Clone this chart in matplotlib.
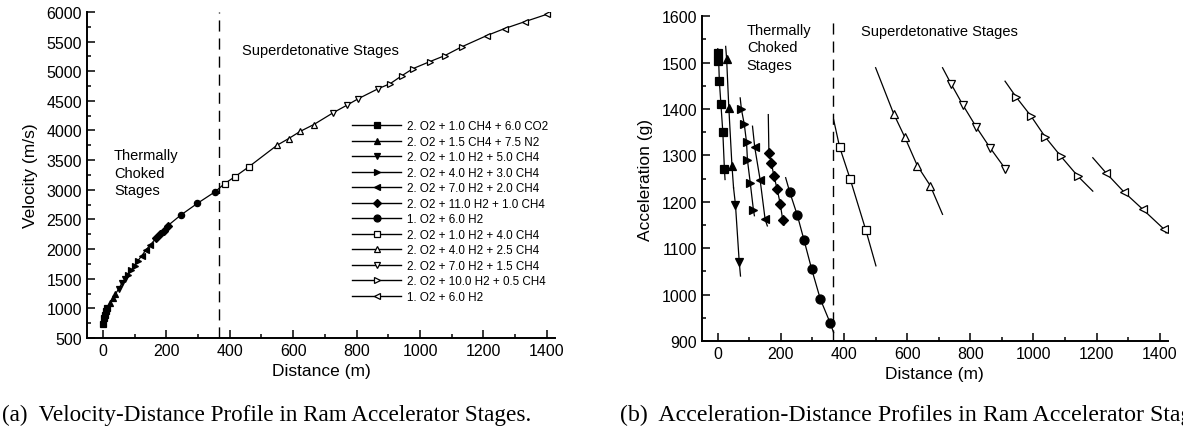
import matplotlib
matplotlib.use("Agg")
import matplotlib.pyplot as plt
from matplotlib.ticker import MultipleLocator

plt.rcParams['font.family'] = ['Liberation Sans', 'DejaVu Sans']

# mixture labels, marker shapes and fill (filled = thermally choked)
labels = ["2. O2 + 1.0 CH4 + 6.0 CO2", "2. O2 + 1.5 CH4 + 7.5 N2",
          "2. O2 + 1.0 H2 + 5.0 CH4", "2. O2 + 4.0 H2 + 3.0 CH4",
          "2. O2 + 7.0 H2 + 2.0 CH4", "2. O2 + 11.0 H2 + 1.0 CH4",
          "1. O2 + 6.0 H2", "2. O2 + 1.0 H2 + 4.0 CH4",
          "2. O2 + 4.0 H2 + 2.5 CH4", "2. O2 + 7.0 H2 + 1.5 CH4",
          "2. O2 + 10.0 H2 + 0.5 CH4", "1. O2 + 6.0 H2"]
markers = ["s", "^", "v", ">", "<", "D", "o", "s", "^", "v", ">", "<"]
filled = [True] * 7 + [False] * 5

# (a) velocity vs distance, marker points per stage
vel_x = [[0, 3, 6, 10, 14], [22, 31, 40], [50, 60, 70], [80, 90, 100, 110],
         [122, 135, 150], [167, 180, 192, 204], [245, 298, 355],
         [384, 416, 460], [549, 586, 623, 665], [727, 769, 806, 869],
         [906, 943, 978, 1031, 1078, 1131], [1210, 1267, 1330, 1400]]
vel_v = [[740, 830, 890, 950, 1000], [1090, 1166, 1240], [1330, 1420, 1490],
         [1570, 1640, 1720, 1800], [1880, 1980, 2070], [2180, 2250, 2310, 2390],
         [2570, 2770, 2970], [3105, 3218, 3386], [3750, 3864, 3987, 4100],
         [4302, 4425, 4538, 4707], [4790, 4925, 5044, 5162, 5263, 5410],
         [5600, 5720, 5835, 5960]]

# (b) acceleration vs distance: curve per stage and marker points
acc_line_x = [[0, 2, 5, 10, 16, 21, 23], [25, 28, 35, 45, 50],
              [50, 56, 68, 72], [71, 75, 84, 91, 94, 103, 113, 116],
              [110, 117, 134, 150, 157], [160, 162, 170, 178, 188, 198, 206, 210],
              [215, 228, 252, 273, 297, 325, 356, 367],
              [367, 386, 419, 469, 501], [500, 557, 592, 632, 673, 712],
              [712, 740, 777, 819, 863, 912], [910, 945, 992, 1037, 1087, 1141, 1188],
              [1188, 1229, 1287, 1346, 1412, 1420]]
acc_line_a = [[1530, 1520, 1460, 1410, 1350, 1271, 1248], [1535, 1508, 1403, 1277, 1230],
              [1230, 1194, 1070, 1040], [1424, 1399, 1367, 1329, 1290, 1240, 1182, 1170],
              [1363, 1318, 1248, 1162, 1148], [1388, 1305, 1283, 1255, 1228, 1195, 1160, 1150],
              [1252, 1221, 1171, 1118, 1056, 990, 939, 918],
              [1377, 1318, 1250, 1139, 1062], [1489, 1390, 1340, 1278, 1235, 1173],
              [1489, 1453, 1408, 1361, 1316, 1270], [1460, 1426, 1385, 1340, 1298, 1255, 1223],
              [1295, 1263, 1221, 1184, 1142, 1133]]
acc_mark_x = [[2, 2, 5, 10, 16, 21], [28, 35, 45], [56, 68],
              [75, 84, 91, 94, 103, 113], [117, 134, 150],
              [162, 170, 178, 188, 198, 206], [228, 252, 273, 297, 325, 356],
              [386, 419, 469], [557, 592, 632, 673], [740, 777, 819, 863, 910],
              [945, 992, 1037, 1087, 1141], [1229, 1287, 1346, 1412]]
acc_mark_a = [[1520, 1503, 1460, 1410, 1350, 1271], [1508, 1403, 1277], [1194, 1070],
              [1399, 1367, 1329, 1290, 1240, 1182], [1318, 1248, 1162],
              [1305, 1283, 1255, 1228, 1195, 1160], [1221, 1171, 1118, 1056, 990, 939],
              [1318, 1250, 1139], [1390, 1340, 1278, 1235], [1453, 1408, 1361, 1316, 1270],
              [1426, 1385, 1340, 1298, 1255], [1263, 1221, 1184, 1142]]

stage_split = 365

fig = plt.figure(figsize=(11.83, 4.31), dpi=100)
ax1 = fig.add_axes([0.0735, 0.2135, 0.3955, 0.7565])
ax2 = fig.add_axes([0.5934, 0.2065, 0.3936, 0.7535])


def style_axes(ax):
    for s in ["top", "right"]:
        ax.spines[s].set_visible(False)
    for s in ["left", "bottom"]:
        ax.spines[s].set_linewidth(1.4)
    ax.xaxis.set_major_locator(MultipleLocator(200))
    ax.xaxis.set_minor_locator(MultipleLocator(100))
    ax.tick_params(which="both", direction="in", top=False, right=False,
                   labelsize=11.5, width=1.1)
    ax.tick_params(which="major", length=6)
    ax.tick_params(which="minor", length=3)
    ax.set_xlim(-50, 1425)


def mk_kwargs(i, ms):
    return dict(marker=markers[i], ms=ms, mec="black",
                mfc="black" if filled[i] else "white", mew=0.9)


# ---- (a) velocity ----
all_x = [x for seg in vel_x for x in seg]
all_v = [v for seg in vel_v for v in seg]
ax1.plot(all_x, all_v, color="black", lw=0.9)
for i in range(len(labels)):
    ms = 4.5 if markers[i] != "D" else 3.8
    ax1.plot(vel_x[i], vel_v[i], ls="none", **mk_kwargs(i, ms))
style_axes(ax1)
ax1.set_ylim(500, 6000)
ax1.yaxis.set_major_locator(MultipleLocator(500))
ax1.yaxis.set_minor_locator(MultipleLocator(250))
ax1.axvline(stage_split, color="black", lw=1.0, ls=(0, (8, 5)))
ax1.set_xlabel("Distance (m)", fontsize=12.5, labelpad=4)
ax1.set_ylabel("Velocity (m/s)", fontsize=12.5, labelpad=6)
ax1.text(35, 3700, "Thermally\nChoked\nStages", fontsize=10.5, va="top",
         linespacing=1.3)
ax1.text(440, 5350, "Superdetonative Stages", fontsize=10.5, va="center")

handles = []
for i in range(len(labels)):
    ms = 5 if markers[i] != "D" else 4.2
    h, = ax1.plot([], [], color="black", lw=1.0, **mk_kwargs(i, ms))
    handles.append(h)
ax1.legend(handles, labels, loc="upper left", bbox_to_anchor=(0.567, 0.668),
           frameon=False, fontsize=8.4, handlelength=4.2, handletextpad=0.5,
           labelspacing=0.30, borderpad=0, borderaxespad=0, numpoints=1)

# ---- (b) acceleration ----
for i in range(len(labels)):
    ax2.plot(acc_line_x[i], acc_line_a[i], color="black", lw=0.9)
    if filled[i]:
        ms = 6.5 if markers[i] == "o" else 5.5
    else:
        ms = 5.5
    ax2.plot(acc_mark_x[i], acc_mark_a[i], ls="none", **mk_kwargs(i, ms))
style_axes(ax2)
ax2.set_ylim(900, 1600)
ax2.yaxis.set_major_locator(MultipleLocator(100))
ax2.yaxis.set_minor_locator(MultipleLocator(50))
ax2.axvline(stage_split, color="black", lw=1.0, ls=(0, (8, 5)))
ax2.set_xlabel("Distance (m)", fontsize=12.5, labelpad=4)
ax2.set_ylabel("Acceleration (g)", fontsize=12.5, labelpad=6)
ax2.text(92, 1585, "Thermally\nChoked\nStages", fontsize=10.5, va="top",
         linespacing=1.3)
ax2.text(453, 1568, "Superdetonative Stages", fontsize=10.5, va="center")

# captions (the reference cuts caption (b) at the right edge)
serif = ["Liberation Serif", "DejaVu Serif"]
fig.text(0.002, 0.037, "(a)  Velocity-Distance Profile in Ram Accelerator Stages.",
         family=serif, fontsize=16.7, va="center")
fig.text(0.524, 0.037, "(b)  Acceleration-Distance Profiles in Ram Accelerator Stages.",
         family=serif, fontsize=17.2, va="center")

fig.savefig("out.png", dpi=100)
